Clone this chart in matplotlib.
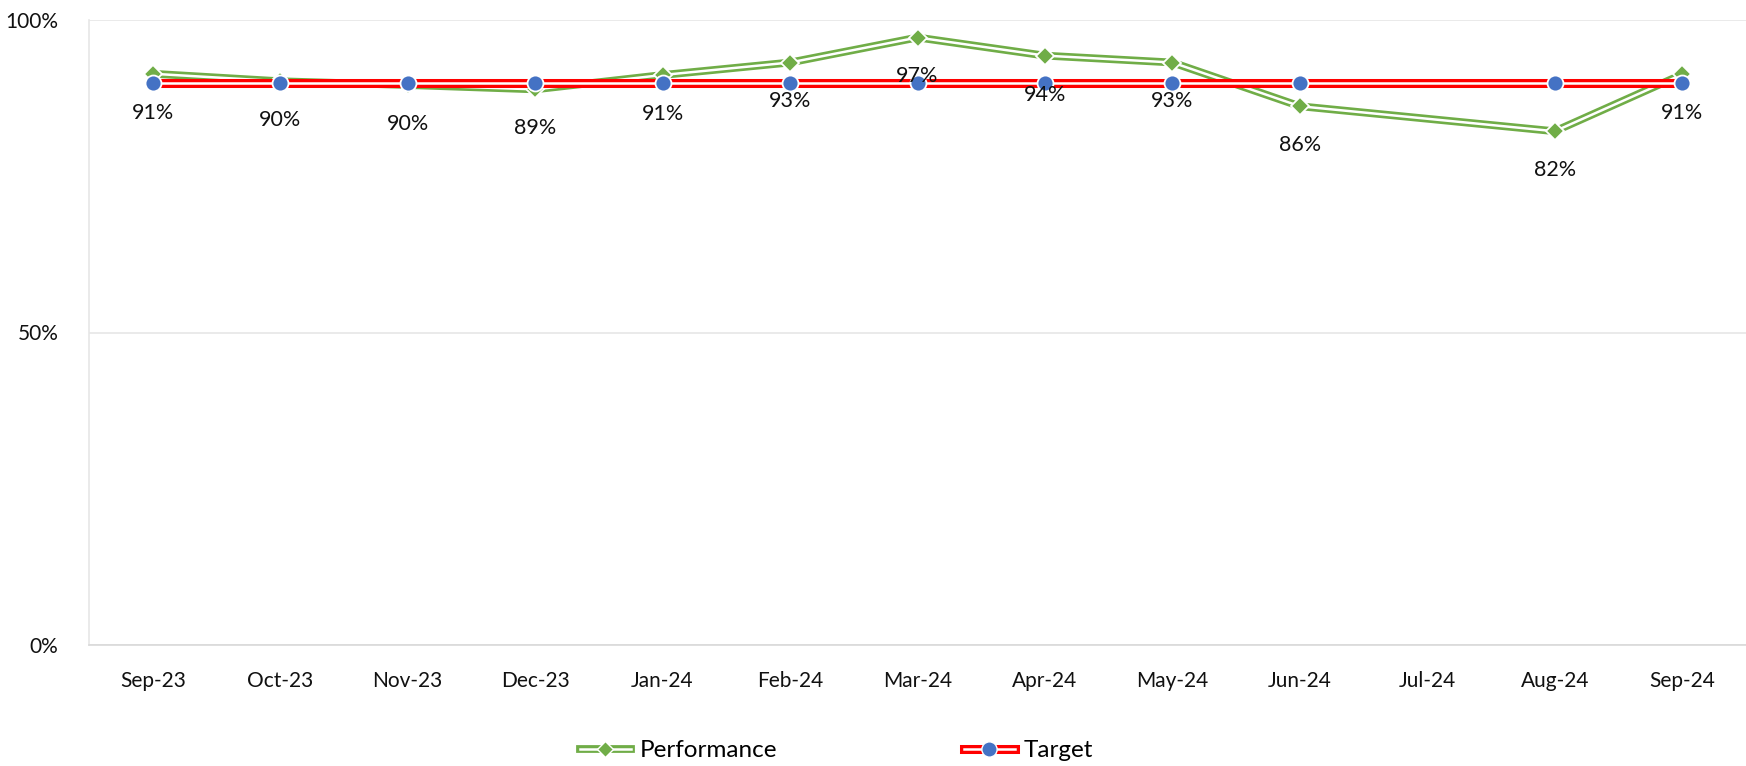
import numpy as np
import matplotlib.pyplot as plt
from matplotlib.lines import Line2D
from matplotlib.legend_handler import HandlerTuple

plt.rcParams['font.family'] = ['Lato', 'DejaVu Sans']

months = ["Sep-23", "Oct-23", "Nov-23", "Dec-23", "Jan-24", "Feb-24", "Mar-24",
          "Apr-24", "May-24", "Jun-24", "Jul-24", "Aug-24", "Sep-24"]
performance = [0.914, 0.902, 0.896, 0.889, 0.912, 0.932, 0.972,
               0.943, 0.932, 0.862, np.nan, 0.822, 0.913]
target = [0.90, 0.90, 0.90, 0.90, 0.90, 0.90, 0.90,
          0.90, 0.90, 0.90, np.nan, 0.90, 0.90]

GREEN = '#70AD47'
RED = '#FF0000'
BLUE = '#4472C4'

fig = plt.figure(figsize=(17.46, 7.66), dpi=100)
ax = fig.add_axes([89 / 1746, 1 - 645 / 766, 1 - 89 / 1746, (645 - 20) / 766])

x = np.arange(len(months))
perf = np.array(performance, dtype=float)
targ = np.array(target, dtype=float)
okp = ~np.isnan(perf)
okt = ~np.isnan(targ)

# performance: double green line with diamonds (gaps bridged)
ax.plot(x[okp], perf[okp], color=GREEN, lw=5.6, zorder=2)
ax.plot(x[okp], perf[okp], color='white', lw=1.8, zorder=2.1)
ax.plot(x[okp], perf[okp], ls='none', marker='D', ms=9.5, mfc=GREEN,
        mec='white', mew=1.3, zorder=2.2)

# target: double red line with blue circles
ax.plot(x[okt], targ[okt], color=RED, lw=6.5, zorder=3)
ax.plot(x[okt], targ[okt], color='white', lw=1.8, zorder=3.1)
ax.plot(x[okt], targ[okt], ls='none', marker='o', ms=11.5, mfc=BLUE,
        mec='white', mew=1.3, zorder=3.2)

for xi, v in zip(x[okp], perf[okp]):
    ax.annotate(f"{v:.0%}", (xi, v), xytext=(0, -28), textcoords='offset points',
                ha='center', va='center', fontsize=15.5, color='#111111', zorder=5)

ax.set_xlim(-0.5, len(months) - 0.5)
ax.set_ylim(0, 1)
ax.set_xticks(x)
ax.set_xticklabels(months, fontsize=15)
ax.set_yticks([0, 0.5, 1])
ax.set_yticklabels(["0%", "50%", "100%"], fontsize=15)
ax.tick_params(axis='both', length=0, colors='#111111')
ax.tick_params(axis='x', pad=19)
ax.tick_params(axis='y', pad=22)

ax.grid(axis='y', color='#E6E6E6', lw=1.2)
ax.set_axisbelow(True)
for side in ['top', 'right']:
    ax.spines[side].set_visible(False)
ax.spines['left'].set_color('#E6E6E6')
ax.spines['bottom'].set_color('#D9D9D9')
ax.spines['left'].set_linewidth(1.2)
ax.spines['bottom'].set_linewidth(1.2)

h_perf = (Line2D([], [], color=GREEN, lw=5.6),
          Line2D([], [], color='white', lw=1.8),
          Line2D([], [], ls='none', marker='D', ms=8.5, mfc=GREEN, mec='white', mew=1.0))
h_targ = (Line2D([], [], color=RED, lw=6.5),
          Line2D([], [], color='white', lw=1.8),
          Line2D([], [], ls='none', marker='o', ms=11, mfc=BLUE, mec='white', mew=1.0))
fig.legend([h_perf, h_targ], ["Performance", "Target"],
           handler_map={tuple: HandlerTuple(ndivide=1, pad=0)},
           loc='center', bbox_to_anchor=(0.479, 0.02), ncol=2, frameon=False,
           fontsize=17.5, handlelength=2.1, columnspacing=7.7, handletextpad=0.35)

fig.savefig("out.png", dpi=100)
